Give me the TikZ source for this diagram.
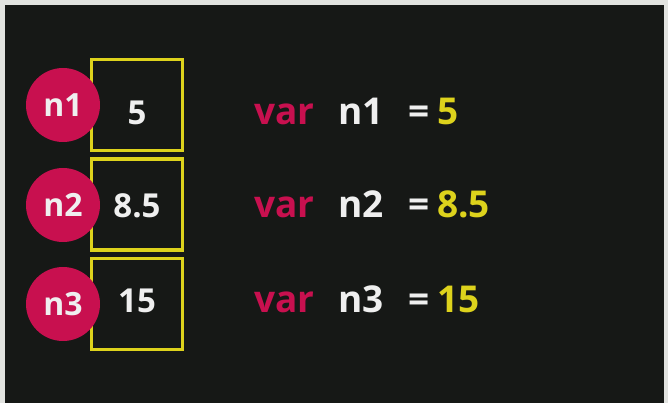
\documentclass[tikz,border=0pt]{standalone}
\usepackage{fontspec}
\setmainfont{Open Sans}
\definecolor{bgdark}{HTML}{161816}
\definecolor{frame}{HTML}{E2E3E0}
\definecolor{crim}{HTML}{C8104F}
\definecolor{yel}{HTML}{DDD21C}
\definecolor{wht}{HTML}{EFEFEF}
\tikzset{
  valbox/.style={draw=yel, line width=3.2pt, minimum width=91pt, minimum height=91pt, inner sep=0pt},
  badge/.style={circle, fill=crim, minimum size=74pt, inner sep=0pt, text=wht, font=\bfseries\fontsize{32}{34}\selectfont},
  boxnum/.style={anchor=base, inner sep=0pt, text=wht, font=\bfseries\fontsize{33}{35}\selectfont},
  code/.style={anchor=base west, inner sep=0pt, font=\bfseries\fontsize{37}{39}\selectfont},
}
\begin{document}
\begin{tikzpicture}[x=1pt,y=-1pt]
\fill[frame] (0,0) rectangle (668,403);
\fill[bgdark] (5,5) rectangle (664,403);
\useasboundingbox (0,0) rectangle (668,403);
% boxes
\node[valbox] (b1) at (137,105) {};
\node[valbox] (b2) at (137,204.5) {};
\node[valbox] (b3) at (137,304) {};
% badges
\node[badge] (c1) at (63,105) {n1};
\node[badge] (c2) at (63,205) {n2};
\node[badge] (c3) at (63,304) {n3};
% values in boxes
\node[boxnum] (v1) at (137,125) {5};
\node[boxnum] (v2) at (137,217) {8.5};
\node[boxnum] (v3) at (137,312) {15};
% code lines
\node[code, text=crim] (k1) at (254,125) {var};
\node[code, text=wht] (n1) at (338,125) {n1};
\node[code, text=wht] (e1) at (408,125) {=};
\node[code, text=yel] (r1) at (437,125) {5};
\node[code, text=crim] (k2) at (254,218) {var};
\node[code, text=wht] (n2) at (338,218) {n2};
\node[code, text=wht] (e2) at (408,218) {=};
\node[code, text=yel] (r2) at (437,218) {8.5};
\node[code, text=crim] (k3) at (254,312) {var};
\node[code, text=wht] (n3) at (338,312) {n3};
\node[code, text=wht] (e3) at (408,312) {=};
\node[code, text=yel] (r3) at (437,312) {15};
\end{tikzpicture}
\end{document}
